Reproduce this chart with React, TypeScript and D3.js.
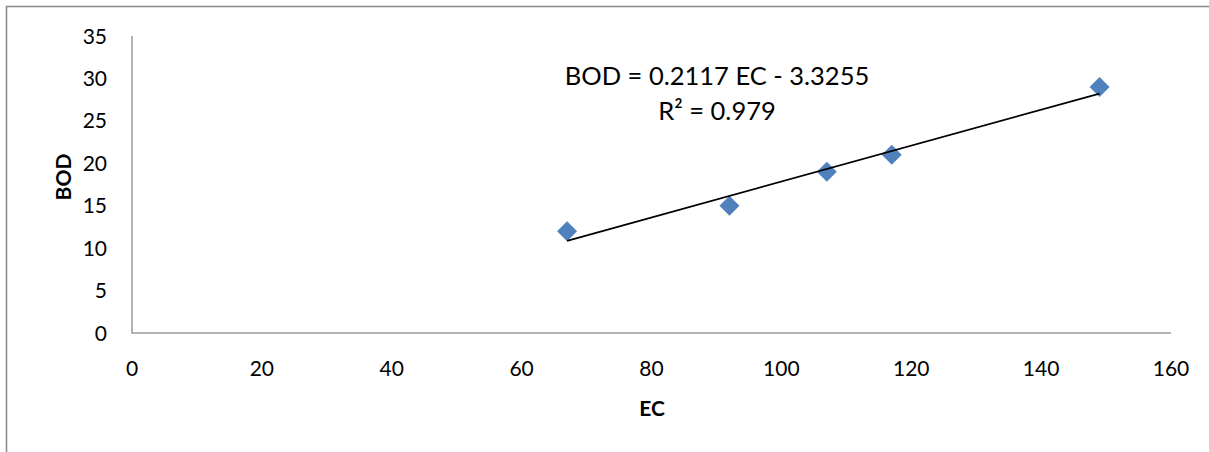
import React from "react";
import * as d3 from "d3";

const ecValues = [67, 92, 107, 117, 149];
const bodValues = [12, 15, 19, 21, 29];
const xTicks = [0, 20, 40, 60, 80, 100, 120, 140, 160];
const yTicks = [0, 5, 10, 15, 20, 25, 30, 35];
const slope = 0.2117;
const intercept = -3.3255;
const equationText = "BOD = 0.2117 EC - 3.3255";
const r2Text = "R² = 0.979";

const W = 1209;
const H = 452;
const font = "Lato, 'Open Sans', sans-serif";

export default function App() {
  const x = d3.scaleLinear().domain([0, 160]).range([132, 1171]);
  const y = d3.scaleLinear().domain([0, 35]).range([333, 36]);
  const xMin = d3.min(ecValues) as number;
  const xMax = d3.max(ecValues) as number;
  const trend = d3.line<number>()
    .x((d) => x(d))
    .y((d) => y(slope * d + intercept));
  const diamond = (cx: number, cy: number, r: number) =>
    `M${cx},${cy - r}L${cx + r},${cy}L${cx},${cy + r}L${cx - r},${cy}Z`;

  return (
    <svg
      width={W}
      height={H}
      style={{ position: "absolute", left: 0, top: 0, background: "#fff" }}
    >
      <rect x={0} y={0} width={W} height={H} fill="#fff" />
      {/* outer border */}
      <path d={`M6.5,${H}L6.5,6.5L${W},6.5`} fill="none" stroke="#868686" strokeWidth={1.5} />
      {/* axes */}
      <path
        d={`M${x(0)},${y(35)}L${x(0)},${y(0)}L${x(160)},${y(0)}`}
        fill="none"
        stroke="#9a9a9a"
        strokeWidth={1.5}
      />
      {yTicks.map((t) => (
        <text
          key={"y" + t}
          x={107}
          y={y(t)}
          dy="0.36em"
          textAnchor="end"
          fontFamily={font}
          fontSize={21}
          fill="#000"
        >
          {t}
        </text>
      ))}
      {xTicks.map((t) => (
        <text
          key={"x" + t}
          x={x(t)}
          y={376}
          textAnchor="middle"
          fontFamily={font}
          fontSize={21}
          fill="#000"
        >
          {t}
        </text>
      ))}
      <text
        x={652}
        y={416}
        textAnchor="middle"
        fontFamily={font}
        fontSize={21}
        fontWeight="bold"
        fill="#000"
      >
        EC
      </text>
      <text
        transform={`translate(71,177) rotate(-90)`}
        textAnchor="middle"
        fontFamily={font}
        fontSize={21}
        fontWeight="bold"
        fill="#000"
      >
        BOD
      </text>
      {ecValues.map((e, i) => (
        <path key={"p" + i} d={diamond(x(e), y(bodValues[i]), 10)} fill="#4F81BD" />
      ))}
      <path d={trend([xMin, xMax]) as string} fill="none" stroke="#000" strokeWidth={1.8} />
      <text x={717} y={85} textAnchor="middle" fontFamily={font} fontSize={25.5} fill="#000">
        {equationText}
      </text>
      <text x={717} y={120} textAnchor="middle" fontFamily={font} fontSize={25.5} fill="#000">
        {r2Text}
      </text>
    </svg>
  );
}
